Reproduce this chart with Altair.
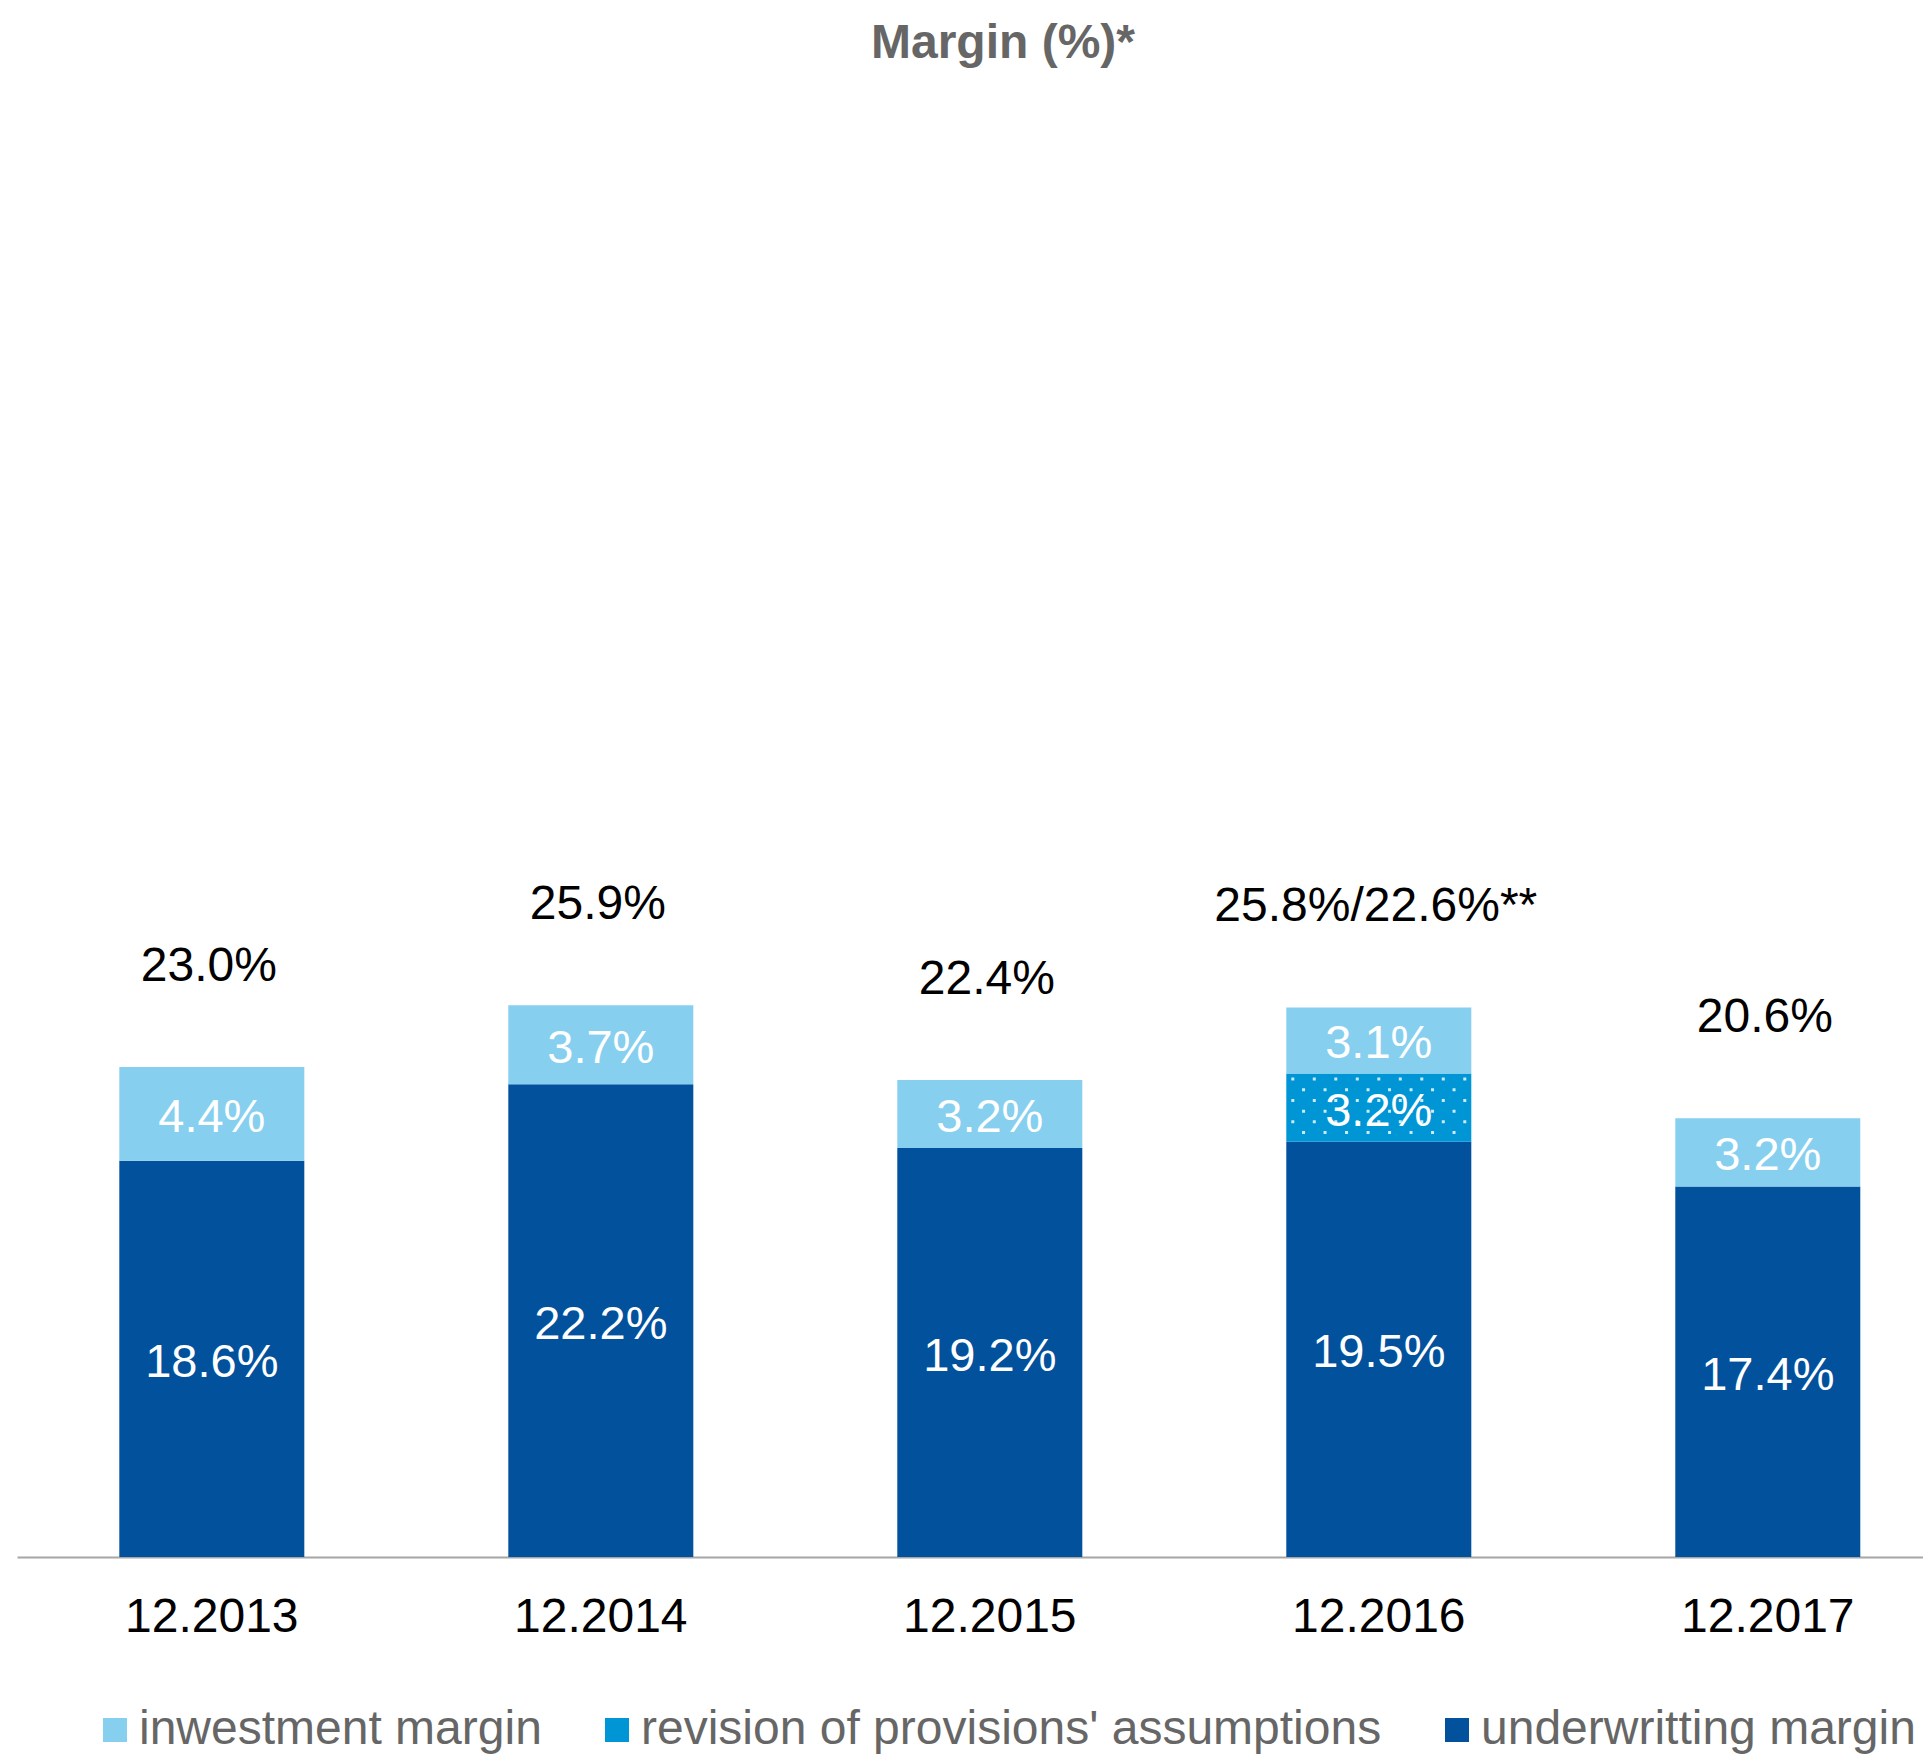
import altair as alt
import pandas as pd

# ---- data ----
periods = ["12.2013", "12.2014", "12.2015", "12.2016", "12.2017"]
underwriting = [18.6, 22.2, 19.2, 19.5, 17.4]
revision = [None, None, None, 3.2, None]
investment = [4.4, 3.7, 3.2, 3.1, 3.2]
total_labels = ["23.0%", "25.9%", "22.4%", "25.8%/22.6%**", "20.6%"]

series_names = ["inwestment margin", "revision of provisions' assumptions", "underwritting margin"]
series_colors = ["#87CFEF", "#0096D6", "#02519C"]

FONT = "Liberation Sans"

rows = []
for i, p in enumerate(periods):
    for order, (name, vals) in enumerate(
        [(series_names[2], underwriting), (series_names[1], revision), (series_names[0], investment)]
    ):
        v = vals[i]
        if v is None:
            continue
        rows.append({"period": p, "series": name, "value": v, "order": order, "label": f"{v:.1f}%"})
df = pd.DataFrame(rows)

tot_df = pd.DataFrame({
    "period": periods,
    "total": [sum(x for x in (u, r, inv) if x is not None) for u, r, inv in zip(underwriting, revision, investment)],
    "label": total_labels,
})

# ---- dotted texture (style) for the revision segment, as a custom symbol path ----
R = 92.5
parts = []
row_step, col_step, dot = 10.7, 21.5, 3.0
yy = -34 + 4.0
r_i = 0
while yy < 34 - 3:
    xx = -R + 5 + (col_step / 2 if r_i % 2 else 0)
    while xx < R - 3:
        parts.append(f"M{xx/R:.4f},{yy/R:.4f}h{dot/R:.4f}v{dot/R:.4f}h{-dot/R:.4f}z")
        xx += col_step
    yy += row_step
    r_i += 1
dot_path = "".join(parts)

x_enc = alt.X(
    "period:N",
    sort=periods,
    title=None,
    scale=alt.Scale(paddingInner=0.5244, paddingOuter=0.2121, align=0.62),
    axis=alt.Axis(
        labelAngle=0, ticks=False, labelPadding=36, labelFontSize=48, labelFont=FONT,
        labelColor="#000000", domainColor="#A6A6A6", domainWidth=2, grid=False,
    ),
)
y_scale = alt.Scale(domain=[0, 70], nice=False, zero=True)

base = alt.Chart(df).transform_stack(
    stack="value", as_=["v0", "v1"], groupby=["period"], sort=[alt.SortField("order", order="ascending")]
).transform_calculate(mid="(datum.v0 + datum.v1) / 2")

bars = base.mark_bar().encode(
    x=x_enc,
    y=alt.Y("v0:Q", scale=y_scale, axis=None),
    y2="v1:Q",
    color=alt.Color(
        "series:N",
        scale=alt.Scale(domain=series_names, range=series_colors),
        legend=alt.Legend(
            title=None, orient="none", legendX=74, legendY=1640, direction="horizontal",
            columns=3, symbolType="square", symbolSize=576, symbolStrokeWidth=0,
            symbolOpacity=1, labelFontSize=48, labelFont=FONT, labelColor="#666666",
            columnPadding=51, labelOffset=0, padding=0, labelLimit=0,
        ),
    ),
)

dots = base.transform_filter(alt.datum.series == series_names[1]).mark_point(
    shape=dot_path, size=(2 * R) ** 2, filled=True, fill="white", opacity=0.8, strokeWidth=0
).encode(x=x_enc, y=alt.Y("mid:Q", scale=y_scale, axis=None))

inner = base.mark_text(color="white", fontSize=47, font=FONT, baseline="middle", dy=4).encode(
    x=x_enc, y=alt.Y("mid:Q", scale=y_scale, axis=None), text="label:N"
)

totals = alt.Chart(tot_df).mark_text(color="black", fontSize=48, font=FONT, baseline="middle", dy=-100, dx=-3).encode(
    x=x_enc, y=alt.Y("total:Q", scale=y_scale, axis=None), text="label:N"
)

chart = alt.layer(bars, dots, inner, totals).properties(
    width=1906,
    height=1491,
    padding={"left": 9, "top": 58, "right": 0, "bottom": 197},
    autosize=alt.AutoSizeParams(type="none"),
    title=alt.Title(
        "Margin (%)*", fontSize=48, fontWeight="bold", color="#666666", font=FONT,
        anchor="middle", dx=33, dy=51, offset=11, baseline="alphabetic",
    ),
).configure_view(stroke=None)

chart.save("out.html", embed_options={"renderer": "svg", "actions": False})
